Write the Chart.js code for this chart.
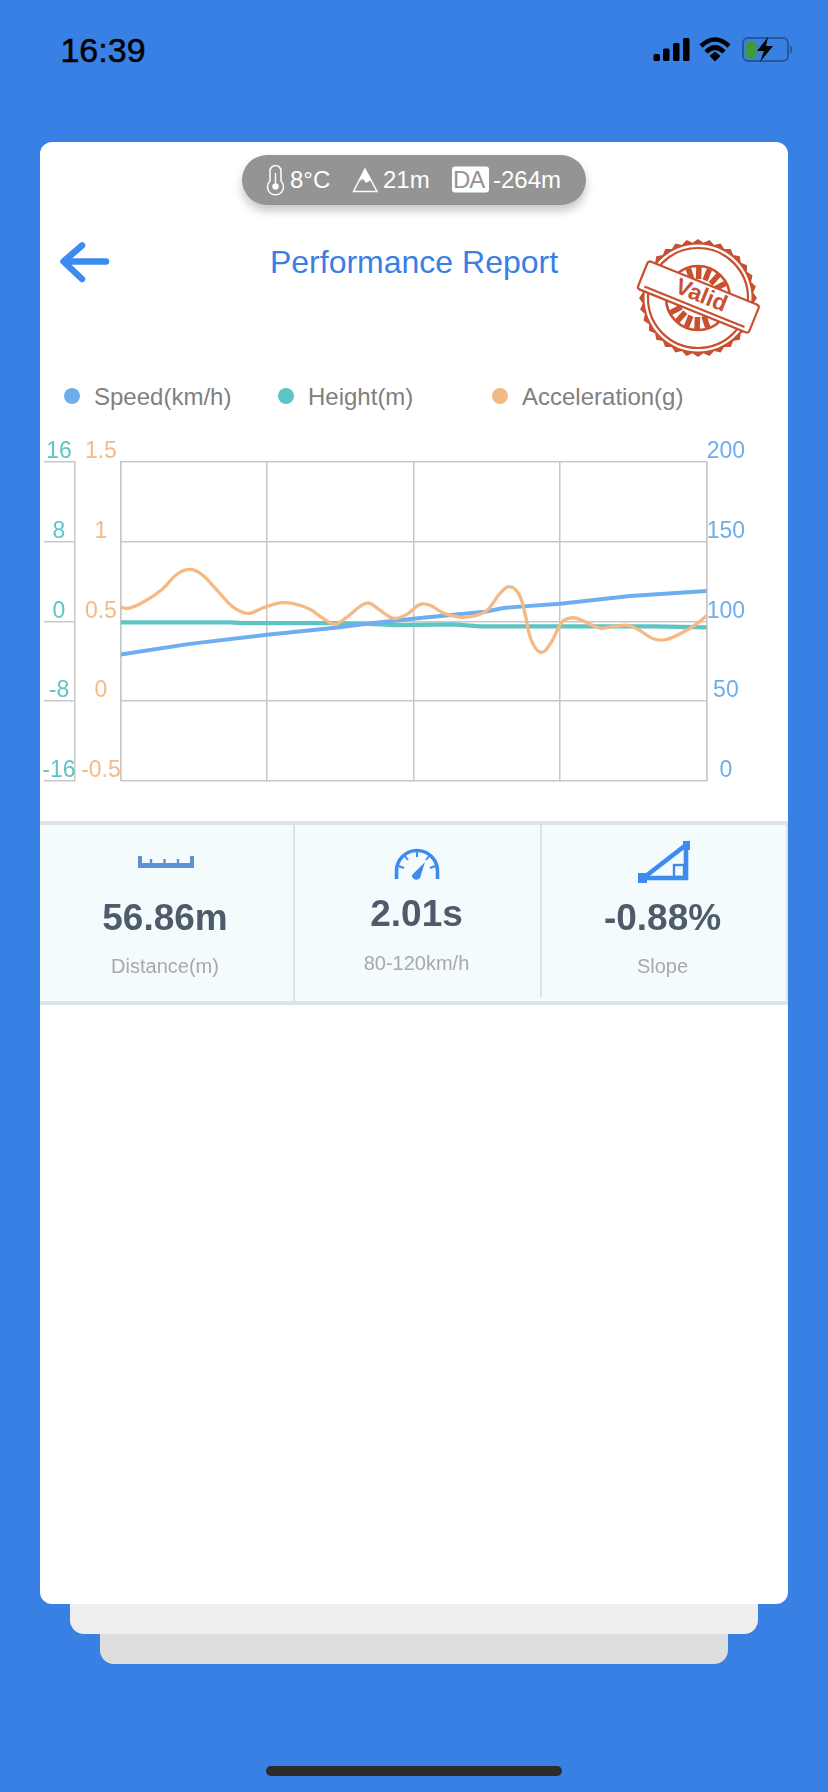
<!DOCTYPE html>
<html>
<head>
<meta charset="utf-8">
<script src="https://cdn.jsdelivr.net/npm/chart.js@4/dist/chart.umd.min.js"></script>
<style>
html, body { margin: 0; padding: 0; }
body { width: 828px; height: 1792px; background: #3880e3; overflow: hidden; position: relative; font-family: "Liberation Sans", Arial, sans-serif; }
.abs { position: absolute; }
.card { position: absolute; border-radius: 0 0 14px 14px; }
.txt { position: absolute; white-space: nowrap; transform: translate(-50%, -50%); }
.big { font-size: 37px; font-weight: bold; color: #4f5b6b; }
.small { font-size: 20px; color: #a9a9a9; }
.pilltxt { position: absolute; top: 25px; transform: translateY(-50%); font-size: 24px; color: #fff; white-space: nowrap; }
svg { position: absolute; overflow: visible; }
</style>
</head>
<body>
<!-- status bar -->
<div class="txt" style="left:103px;top:50px;font-size:34px;color:#000;-webkit-text-stroke:0.5px #000;">16:39</div>
<svg style="left:0;top:0" width="828" height="100">
  <rect x="653.5" y="54" width="6.5" height="7" rx="1.5" fill="#000"/>
  <rect x="663" y="48.5" width="6.5" height="12.5" rx="1.5" fill="#000"/>
  <rect x="673" y="43" width="6.5" height="18" rx="1.5" fill="#000"/>
  <rect x="683" y="38" width="6.5" height="23" rx="1.5" fill="#000"/>
  <path d="M701 46 Q715 33 729 46" fill="none" stroke="#000" stroke-width="4.5"/>
  <path d="M706 52 Q715 43 724 52" fill="none" stroke="#000" stroke-width="4.5"/>
  <path d="M709.5 56 L715 51.5 L720.5 56 L715 61.5 Z" fill="#000"/>
  <rect x="743" y="38" width="45" height="23" rx="5" fill="none" stroke="#27579b" stroke-width="2"/>
  <rect x="746" y="41.5" width="10.5" height="17" rx="3" fill="#3f9a3b"/>
  <path d="M790 45 Q794.5 49.5 790 54 Z" fill="#27579b"/>
  <path d="M768 37 L757 51 L764 51 L760 62 L773 46 L766 46 Z" fill="#000"/>
</svg>

<!-- stacked cards -->
<div class="card" style="left:100px;width:628px;top:1600px;height:64px;background:#dddddd;"></div>
<div class="card" style="left:70px;width:688px;top:1570px;height:64px;background:#eeeeee;"></div>
<div class="abs" style="left:40px;width:748px;top:142px;height:1462px;background:#fff;border-radius:12px;"></div>
<div class="abs" style="left:266px;width:296px;top:1766px;height:10px;border-radius:5px;background:#2c2c2c;"></div>

<!-- weather pill -->
<div class="abs" style="left:242px;top:155px;width:344px;height:50px;border-radius:25px;background:#949494;box-shadow:0 6px 10px rgba(0,0,0,0.22);">
  <svg style="left:0;top:0" width="344" height="50">
    <path d="M28 16 a5.5 5.5 0 0 1 11 0 V26 a8 8 0 1 1 -11 0 Z" fill="none" stroke="#fff" stroke-width="1.5"/>
    <circle cx="33.5" cy="31.5" r="3.2" fill="#fff"/>
    <rect x="32.8" y="18" width="1.4" height="11" fill="#fff"/>
    <path d="M123 14 L111.5 36.5 H135 Z" fill="none" stroke="#fff" stroke-width="1.5"/>
    <path d="M123 14 L117 26 L121 24 L124 28 L129 25 Z" fill="#fff"/>
    <rect x="210" y="11.5" width="37" height="26" rx="3" fill="#fff"/>
  </svg>
  <div class="pilltxt" style="left:48px;">8°C</div>
  <div class="pilltxt" style="left:141px;">21m</div>
  <div class="pilltxt" style="left:211px;color:#949494;letter-spacing:-1px;">DA</div>
  <div class="pilltxt" style="left:251px;">-264m</div>
</div>

<!-- header -->
<svg style="left:0;top:0" width="828" height="300">
  <path d="M106 261.5 H66 M82 245.5 L63.5 261.5 L82 279" fill="none" stroke="#3d8bef" stroke-width="6.5" stroke-linecap="round" stroke-linejoin="round"/>
</svg>
<div class="txt" style="left:414px;top:262px;font-size:32px;color:#3880e3;">Performance Report</div>
<svg id="stamp" style="left:0;top:0" width="828" height="400"></svg>

<!-- legend -->
<div id="legend"></div>

<!-- chart -->
<canvas id="chart" class="abs" style="left:40px;top:440px;" width="748" height="360"></canvas>

<!-- stats -->
<div class="abs" style="left:40px;top:821px;width:746px;height:176px;background:#f3fbfd;border-top:4px solid #dde4e8;border-bottom:4px solid #dde4e8;border-right:2px solid #dde4e8;"></div>
<div class="abs" style="left:293px;top:825px;width:1.5px;height:176px;background:#dde4e8;"></div>
<div class="abs" style="left:540px;top:825px;width:1.5px;height:172px;background:#dde4e8;"></div>
<svg style="left:0;top:0" width="828" height="1000">
  <path d="M138 863 H194 V868 H138 Z M138 856 H142 V863 H138 Z M190 856 H194 V863 H190 Z" fill="#5b93d6"/>
  <path d="M151 859 V864 M164.500 859 V864 M178 859 V864" stroke="#5b93d6" stroke-width="2.4"/>
  <path d="M396.500 879 V871 A20.500 20.500 0 0 1 437.500 871 V879" fill="none" stroke="#3d8bef" stroke-width="3.6"/>
  <path d="M417 851 V857 M404 855 L408 860 M430 855 L426 860 M398.500 866 L404 868 M435.500 866 L430 868" stroke="#3d8bef" stroke-width="2"/>
  <path d="M412 875 L425 862 L420 878 A4.500 4.500 0 0 1 412 875 Z" fill="#3d8bef"/>
  <path d="M642 879 L686 845 V878 H642" fill="none" stroke="#3d8bef" stroke-width="4.6"/>
  <rect x="638" y="873" width="9" height="10" fill="#3d8bef"/>
  <rect x="683" y="841" width="7" height="9" fill="#3d8bef"/>
  <rect x="674" y="865" width="10" height="12" fill="none" stroke="#3d8bef" stroke-width="2.4"/>
</svg>
<div class="txt big" style="left:165px;top:918px;">56.86m</div>
<div class="txt small" style="left:165px;top:966px;">Distance(m)</div>
<div class="txt big" style="left:416.5px;top:914px;">2.01s</div>
<div class="txt small" style="left:416.5px;top:963px;">80-120km/h</div>
<div class="txt big" style="left:662.5px;top:918px;">-0.88%</div>
<div class="txt small" style="left:662.5px;top:966px;">Slope</div>

<script>
// data, x is % of the plot width
const speedTime = [0, 11.8, 25, 36.6, 42, 51.1, 56.8, 62.2, 65.3, 69.3, 75, 86.9, 100];
const speedKmh = [79.1, 85.8, 91.5, 95.9, 98.4, 102, 104.1, 106, 108.3, 109.5, 111, 115.8, 119];

const heightTime = [0, 18.7, 20.9, 35.7, 41.4, 47.1, 56.8, 61.3, 90.9, 100];
const heightM = [-0.12, -0.12, -0.19, -0.19, -0.25, -0.39, -0.32, -0.52, -0.52, -0.62];

const accelTime = [0, 1.3, 3.9, 7, 9.6, 11.8, 13.8, 16.7, 19.2, 21.8, 24.3, 27.2, 29.5, 32.3, 34.6, 36.6, 38.6, 42, 44.3, 46.5, 48.8, 51.1, 52.8, 55.1, 57.9, 60.2, 62.5, 64.7, 66.3, 67.9, 69, 70.1, 71.8, 73.5, 75.3, 77.2, 79, 81.8, 84.1, 86.6, 88.6, 90.9, 93.2, 96, 98.3, 100];
const accelG = [0.589, 0.581, 0.621, 0.698, 0.795, 0.826, 0.795, 0.684, 0.589, 0.549, 0.585, 0.616, 0.61, 0.575, 0.516, 0.482, 0.526, 0.614, 0.568, 0.518, 0.543, 0.606, 0.6, 0.551, 0.526, 0.533, 0.568, 0.673, 0.717, 0.673, 0.547, 0.379, 0.304, 0.369, 0.495, 0.522, 0.501, 0.457, 0.467, 0.474, 0.442, 0.39, 0.386, 0.432, 0.484, 0.535];

const heightTicks = [-16, -8, 0, 8, 16];
const accelTicks = [-0.5, 0, 0.5, 1, 1.5];
const speedTicks = [0, 50, 100, 150, 200];
const timeTicks = [0, 25, 50, 75, 100];

const seriesNames = ['Speed(km/h)', 'Height(m)', 'Acceleration(g)'];
const seriesColors = ['#6eaeec', '#5fc4c4', '#f5b985'];
const legendDotX = [72, 286, 500];
const legendTextX = [94, 308, 522];

const GRID = '#c8c8c8';

const zip = (xs, ys) => xs.map((x, i) => ({ x: x, y: ys[i] }));
const fixedTicks = (list) => (scale) => { scale.ticks = list.map(v => ({ value: v })); };
const fixedWidth = (w) => (scale) => { scale.width = w; };

function yAxis(position, color, list, width, extra) {
    return Object.assign({
        type: 'linear',
        position: position,
        min: list[0],
        max: list[list.length - 1],
        afterBuildTicks: fixedTicks(list),
        afterFit: fixedWidth(width),
        grid: { display: false, drawTicks: false },
        border: { display: true, color: GRID, width: 1.5 }
    }, extra, {
        ticks: Object.assign({
            color: color,
            font: { family: 'Liberation Sans', size: 23 },
            labelOffset: -10,
            crossAlign: 'center',
            autoSkip: false,
            maxRotation: 0,
            callback: (v) => String(v)
        }, extra.ticks)
    });
}

new Chart(document.getElementById('chart'), {
    type: 'line',
    data: {
        datasets: [
            { label: seriesNames[2], data: zip(accelTime, accelG), yAxisID: 'yAccel', borderColor: seriesColors[2], borderWidth: 3.3, tension: 0.4, order: 1, borderCapStyle: 'round' },
            { label: seriesNames[0], data: zip(speedTime, speedKmh), yAxisID: 'ySpeed', borderColor: seriesColors[0], borderWidth: 4, tension: 0, order: 2 },
            { label: seriesNames[1], data: zip(heightTime, heightM), yAxisID: 'yHeight', borderColor: seriesColors[1], borderWidth: 4.2, tension: 0, order: 3 }
        ]
    },
    options: {
        responsive: false,
        animation: false,
        devicePixelRatio: window.devicePixelRatio,
        layout: { padding: { top: 22, bottom: 19.5, left: 0, right: 0 } },
        elements: { point: { radius: 0 } },
        plugins: { legend: { display: false }, tooltip: { enabled: false } },
        scales: {
            x: {
                type: 'linear',
                min: timeTicks[0],
                max: timeTicks[timeTicks.length - 1],
                afterBuildTicks: fixedTicks(timeTicks),
                ticks: { display: false },
                grid: { color: GRID, lineWidth: 1.5, drawTicks: false },
                border: { display: false }
            },
            yHeight: yAxis('left', seriesColors[1], heightTicks, 35, {
                weight: 2,
                ticks: { padding: -31.6 },
                grid: { display: true, drawOnChartArea: false, drawTicks: true, tickLength: 31, color: GRID, lineWidth: 1.5 }
            }),
            yAccel: yAxis('left', seriesColors[2], accelTicks, 45.7, {
                weight: 1,
                ticks: { padding: 0 }
            }),
            ySpeed: yAxis('right', seriesColors[0], speedTicks, 81.3, {
                ticks: { padding: 0 },
                grid: { display: true, drawTicks: false, color: GRID, lineWidth: 1.5 }
            })
        }
    }
});

// legend row
const legend = document.getElementById('legend');
seriesNames.forEach((name, i) => {
    const dot = document.createElement('div');
    dot.className = 'abs';
    dot.style.cssText = `left:${legendDotX[i] - 8}px;top:388px;width:16px;height:16px;border-radius:50%;background:${seriesColors[i]};`;
    legend.appendChild(dot);
    const label = document.createElement('div');
    label.className = 'abs';
    label.textContent = name;
    label.style.cssText = `left:${legendTextX[i]}px;top:397px;transform:translateY(-50%);font-size:24px;color:#808080;white-space:nowrap;`;
    legend.appendChild(label);
});

// the Valid stamp badge
(function drawStamp() {
    const RED = '#c8502f', cx = 698, cy = 298;
    let teeth = [];
    for (let i = 0; i < 64; i++) {
        const a = i / 64 * Math.PI * 2, r = i % 2 ? 55.5 : 59;
        teeth.push((cx + r * Math.cos(a)).toFixed(1) + ',' + (cy + r * Math.sin(a)).toFixed(1));
    }
    let rays = '';
    [-130, -110, -90, -70, -50, 50, 70, 90, 110, 130].forEach(d => {
        const a = d * Math.PI / 180 + 0.38;
        rays += `<line x1="${cx + 19 * Math.cos(a)}" y1="${cy + 19 * Math.sin(a)}" x2="${cx + 31 * Math.cos(a)}" y2="${cy + 31 * Math.sin(a)}" stroke="${RED}" stroke-width="5.5"/>`;
    });
    document.getElementById('stamp').innerHTML = `
        <polygon points="${teeth.join(' ')}" fill="${RED}"/>
        <circle cx="${cx}" cy="${cy}" r="53.5" fill="#fff"/>
        <circle cx="${cx}" cy="${cy}" r="50" fill="none" stroke="${RED}" stroke-width="2.2"/>
        <circle cx="${cx}" cy="${cy}" r="32" fill="none" stroke="${RED}" stroke-width="2.6"/>
        ${rays}
        <g transform="translate(${cx} ${cy}) rotate(22)">
            <rect x="-60" y="-16" width="120" height="30" rx="3" fill="#fff" stroke="${RED}" stroke-width="2.2"/>
            <line x1="-54" y1="9.5" x2="54" y2="9.5" stroke="${RED}" stroke-width="2.2"/>
            <text x="2" y="3.5" text-anchor="middle" font-family="Liberation Sans" font-weight="bold" font-size="23" fill="${RED}">Valid</text>
        </g>`;
})();
</script>
</body>
</html>
